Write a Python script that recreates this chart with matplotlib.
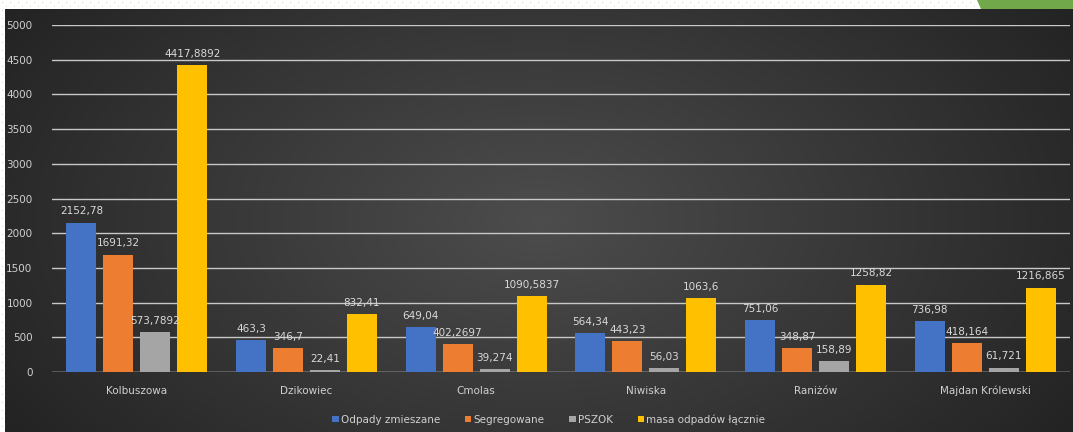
import matplotlib.pyplot as plt
import numpy as np

gminy = ["Kolbuszowa", "Dzikowiec", "Cmolas", "Niwiska", "Raniżów", "Majdan Królewski"]
zmieszane = [2152.78, 463.3, 649.04, 564.34, 751.06, 736.98]
segregowane = [1691.32, 346.7, 402.2697, 443.23, 348.87, 418.164]
pszok = [573.7892, 22.41, 39.274, 56.03, 158.89, 61.721]
lacznie = [4417.8892, 832.41, 1090.5837, 1063.6, 1258.82, 1216.865]

etykiety = {
    "zmieszane": ["2152,78", "463,3", "649,04", "564,34", "751,06", "736,98"],
    "segregowane": ["1691,32", "346,7", "402,2697", "443,23", "348,87", "418,164"],
    "pszok": ["573,7892", "22,41", "39,274", "56,03", "158,89", "61,721"],
    "lacznie": ["4417,8892", "832,41", "1090,5837", "1063,6", "1258,82", "1216,865"],
}

serie = [
    ("Odpady zmieszane", zmieszane, "#4472C4", "zmieszane"),
    ("Segregowane", segregowane, "#ED7D31", "segregowane"),
    ("PSZOK", pszok, "#A5A5A5", "pszok"),
    ("masa odpadów łącznie", lacznie, "#FFC000", "lacznie"),
]

W, H = 1073, 432
fig = plt.figure(figsize=(W / 100, H / 100), dpi=100)
fig.patch.set_facecolor("white")

# dotted paper margin
dots = fig.add_axes([0, 0, 1, 1])
dots.set_xlim(0, W)
dots.set_ylim(H, 0)
dots.axis("off")
xs = np.arange(2, W, 8)
dots.scatter(xs, np.full_like(xs, 2), s=0.6, color="#d8d2a8", lw=0)
dots.scatter(xs + 4, np.full_like(xs, 6), s=0.6, color="#d8d2a8", lw=0)
ys = np.arange(10, H, 8)
dots.scatter(np.full_like(ys, 2), ys, s=0.6, color="#d8d2a8", lw=0)
dots.fill([977, W, W, 981], [0, 0, 9, 9], color="#70A84A", lw=0)

# dark gradient background of the chart
bg = fig.add_axes([5 / W, 0, 1 - 5 / W, (H - 9) / H])
bg.axis("off")
gx, gy = np.meshgrid(np.linspace(-1, 1, 400), np.linspace(-1, 1, 200))
r = np.sqrt((gx * 0.9) ** 2 + (gy * 0.6) ** 2)
shade = 0.30 - 0.15 * np.clip(r, 0, 1.2)
bg.imshow(np.dstack([shade, shade, shade]), aspect="auto", extent=[0, 1, 0, 1])

ax = fig.add_axes([52 / W, 60 / H, (1070 - 52) / W, (372 - 25) / H])
ax.patch.set_alpha(0)

x = np.arange(len(gminy))
szer = 0.176
krok = 0.218
for i, (nazwa, wart, kolor, klucz) in enumerate(serie):
    pos = x + (i - 1.5) * krok
    ax.bar(pos, wart, width=szer, color=kolor, label=nazwa, zorder=3)
    for px, v, t in zip(pos, wart, etykiety[klucz]):
        ax.text(px, v + 90, t, ha="center", va="bottom", fontsize=7.5,
                color="#d9d9d9", zorder=4)

ax.set_xlim(-0.5, len(gminy) - 0.5)
ax.set_ylim(0, 5000)
ax.set_yticks(np.arange(0, 5001, 500))
ax.yaxis.grid(True, color="#c8c8c8", lw=1.0, zorder=1)
ax.set_axisbelow(True)
for s in ax.spines.values():
    s.set_visible(False)
ax.axhline(0, color="#9a9a9a", lw=1.0, zorder=2)
ax.set_xticks(x)
ax.set_xticklabels(gminy)
ax.tick_params(axis="both", length=0, colors="#d0d0d0", labelsize=7.5)
ax.tick_params(axis="x", pad=10)
ax.tick_params(axis="y", pad=14)

leg = ax.legend(loc="upper center", bbox_to_anchor=(0.488, -0.095), ncol=4,
                frameon=False, fontsize=7.5, handlelength=0.6, handleheight=0.6,
                handletextpad=0.2, columnspacing=2.4)
for t in leg.get_texts():
    t.set_color("#d0d0d0")

fig.savefig("out.png", dpi=100)
